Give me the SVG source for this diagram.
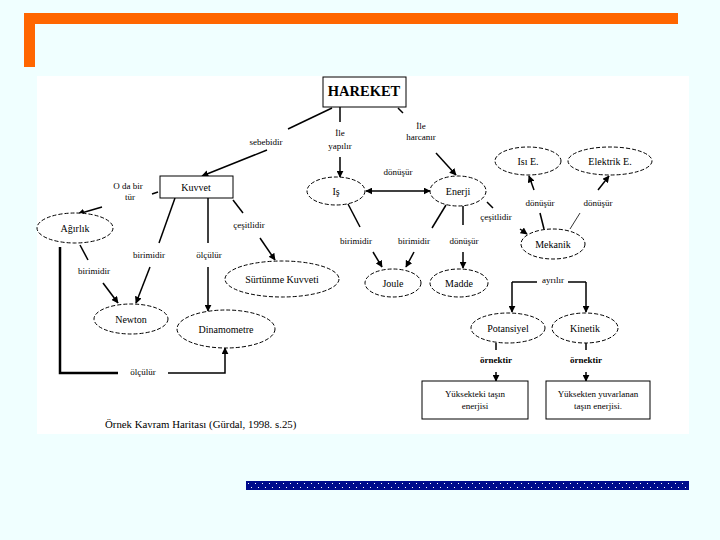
<svg xmlns="http://www.w3.org/2000/svg" width="720" height="540" viewBox="0 0 720 540">
<defs>
<marker id="ah2" viewBox="0 0 10 10" refX="9" refY="5" markerWidth="7" markerHeight="7" orient="auto-start-reverse" markerUnits="userSpaceOnUse"><path d="M0,0 L10,5 L0,10 z" fill="#000"/></marker>
<pattern id="dots" x="246" y="481" width="7" height="9" patternUnits="userSpaceOnUse"><rect width="7" height="9" fill="#000c8c"/><rect x="2" y="2" width="1" height="1" fill="#fff"/><rect x="5" y="6" width="1" height="1" fill="#fff"/></pattern>
</defs>
<style>
text{font-family:"Liberation Serif","Times New Roman",serif;fill:#000;text-anchor:middle}
.lb{font-size:9px}
.nd{font-size:10px}
.el{fill:#fff;stroke:#000;stroke-width:1;stroke-dasharray:4,2}
.bx{fill:#fff;stroke:#000;stroke-width:1}
.c{fill:none;stroke:#000;stroke-width:1.5}
.ca{fill:none;stroke:#000;stroke-width:1.5;marker-end:url(#ah2)}
</style>
<rect width="720" height="540" fill="#f0ffff"/>
<rect x="24" y="13" width="654" height="11" fill="#ff6600"/>
<rect x="24" y="13" width="11" height="54" fill="#ff6600"/>
<rect x="246" y="481" width="443" height="9" fill="url(#dots)"/>
<rect x="37" y="76" width="652" height="358" fill="#fff"/>

<g id="connectors">
<path class="c" d="M332,108 L288,129"/>
<path class="ca" d="M267,150 L202,176"/>
<path class="c" d="M340,107 L340,122"/>
<path class="ca" d="M340,157 L340,177"/>
<path class="c" d="M398,108 L403,113"/>
<path class="ca" d="M436,153 L456,175"/>
<path class="ca" d="M366,191 L430,191" marker-start="url(#ah2)"/>
<path class="ca" d="M534,190 L529,176"/>
<path class="ca" d="M598,190 L609,176"/>
<path class="c" d="M540,213 L544,229"/>
<path d="M580,213 L570,229" fill="none" stroke="#000" stroke-width="0.8"/>
<path class="c" d="M487,202 L493,208"/>
<path class="ca" d="M520,229 L527,234"/>
<path class="c" d="M446,205 L432,228"/>
<path class="ca" d="M414,252 L406,267"/>
<path class="c" d="M463,206 L463,225"/>
<path class="ca" d="M463,252 L463,268"/>
<path class="c" d="M348,204 L360,227"/>
<path class="ca" d="M373,252 L382,267"/>
<path class="c" d="M537,282 L512,282"/>
<path class="ca" d="M512,282 L512,312"/>
<path class="c" d="M568,282 L586,282"/>
<path class="ca" d="M586,282 L586,312"/>
<path class="c" d="M496,343 L496,350"/>
<path class="c" d="M586,343 L586,350"/>
<path class="ca" d="M496,372 L496,381"/>
<path class="ca" d="M586,372 L586,381"/>
<path class="c" d="M158,192 L152,194"/>
<path class="ca" d="M102,207 L78,214"/>
<path class="c" d="M80,245 L88,260"/>
<path class="ca" d="M103,283 L118,303"/>
<path class="c" d="M175,198 L159,243"/>
<path class="ca" d="M150,267 L136,303"/>
<path class="c" d="M208,198 L208,243"/>
<path class="ca" d="M208,267 L208,311"/>
<path class="c" d="M233,200 L243,213"/>
<path class="ca" d="M260,238 L275,260"/>
<path d="M60,247 L60,373 L118,373" fill="none" stroke="#000" stroke-width="2.5"/>
<path class="ca" d="M168,373 L225,373 L225,348"/>
</g>

<g id="hareket"><rect class="bx" x="323" y="77" width="83" height="30"/><text x="364" y="96" style="font-size:14.5px;font-weight:bold">HAREKET</text></g>
<g id="kuvvet"><rect class="bx" x="160" y="176" width="73" height="22"/><text class="nd" x="196" y="191">Kuvvet</text></g>
<g id="is"><ellipse class="el" cx="336" cy="191" rx="29" ry="14"/><text class="nd" x="336" y="195">Iş</text></g>
<g id="enerji"><ellipse class="el" cx="458" cy="191" rx="28" ry="15"/><text class="nd" x="458" y="195">Enerji</text></g>
<g id="isi"><ellipse class="el" cx="528" cy="161" rx="33" ry="14"/><text class="nd" x="528" y="165">Isı E.</text></g>
<g id="elektrik"><ellipse class="el" cx="610" cy="161" rx="42" ry="14"/><text class="nd" x="610" y="165">Elektrik E.</text></g>
<g id="mekanik"><ellipse class="el" cx="553" cy="244" rx="32" ry="15"/><text class="nd" x="553" y="248">Mekanik</text></g>
<g id="agirlik"><ellipse class="el" cx="75" cy="228" rx="38" ry="15"/><text class="nd" x="75" y="232">Ağırlık</text></g>
<g id="newton"><ellipse class="el" cx="131" cy="319" rx="37" ry="15"/><text class="nd" x="131" y="323">Newton</text></g>
<g id="dinamometre"><ellipse class="el" cx="226" cy="329" rx="49" ry="19"/><text class="nd" x="226" y="333">Dinamometre</text></g>
<g id="surtunme"><ellipse class="el" cx="282" cy="279" rx="57" ry="18"/><text class="nd" x="282" y="283">Sürtünme Kuvveti</text></g>
<g id="joule"><ellipse class="el" cx="393" cy="283" rx="28" ry="14"/><text class="nd" x="393" y="287">Joule</text></g>
<g id="madde"><ellipse class="el" cx="459" cy="283" rx="29" ry="14"/><text class="nd" x="459" y="287">Madde</text></g>
<g id="potansiyel"><ellipse class="el" cx="508" cy="328" rx="37" ry="15"/><text class="nd" x="508" y="332">Potansiyel</text></g>
<g id="kinetik"><ellipse class="el" cx="585" cy="328" rx="33" ry="15"/><text class="nd" x="585" y="332">Kinetik</text></g>
<g id="box1"><rect class="bx" x="422" y="381" width="106" height="38"/><text class="lb" x="475" y="397">Yüksekteki taşın</text><text class="lb" x="475" y="409">enerjisi</text></g>
<g id="box2"><rect class="bx" x="546" y="381" width="104" height="38"/><text class="lb" x="598" y="397">Yüksekten yuvarlanan</text><text class="lb" x="598" y="409">taşın enerjisi.</text></g>

<g id="labels">
<text class="lb" x="266" y="145">sebebidir</text>
<text class="lb" x="340" y="136">İle</text>
<text class="lb" x="340" y="149">yapılır</text>
<text class="lb" x="421" y="129">İle</text>
<text class="lb" x="421" y="140">harcanır</text>
<text class="lb" x="398" y="175">dönüşür</text>
<text class="lb" x="540" y="206">dönüşür</text>
<text class="lb" x="598" y="206">dönüşür</text>
<text class="lb" x="496" y="220">çeşitlidir</text>
<text class="lb" x="356" y="244">birimidir</text>
<text class="lb" x="414" y="244">birimidir</text>
<text class="lb" x="464" y="244">dönüşür</text>
<text class="lb" x="553" y="283">ayrılır</text>
<text class="lb" x="496" y="363" style="font-weight:bold">örnektir</text>
<text class="lb" x="586" y="363" style="font-weight:bold">örnektir</text>
<text class="lb" x="128" y="189">O da bir</text>
<text class="lb" x="130" y="200">tür</text>
<text class="lb" x="94" y="274">birimidir</text>
<text class="lb" x="149" y="258">birimidir</text>
<text class="lb" x="209" y="258">ölçülür</text>
<text class="lb" x="249" y="228">çeşitlidir</text>
<text class="lb" x="143" y="375">ölçülür</text>
<text x="105" y="428" style="font-size:10.8px;text-anchor:start">Örnek Kavram Haritası (Gürdal, 1998. s.25)</text>
</g>
</svg>
